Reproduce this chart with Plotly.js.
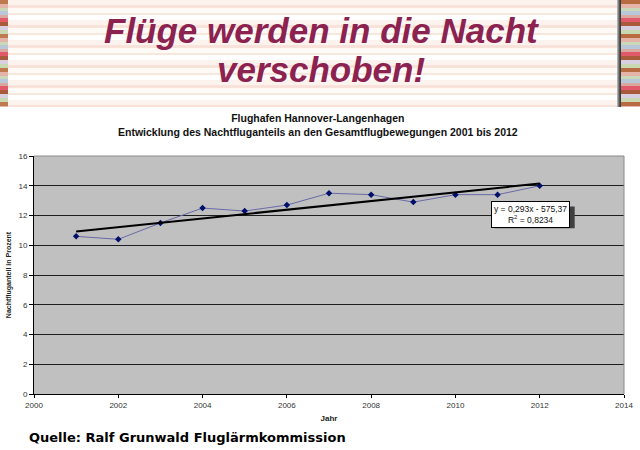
<!DOCTYPE html>
<html>
<head>
<meta charset="utf-8">
<script src="https://cdn.plot.ly/plotly-3.0.1.min.js"></script>
<style>
html,body{margin:0;padding:0;background:#fff;}
#wrap{position:relative;width:640px;height:450px;overflow:hidden;background:#fff;}
#banner{position:absolute;left:0;top:0;width:640px;height:107px;
 background:repeating-linear-gradient(180deg,#fdf3ee 0px,#fdf3ee 5px,#f8e2da 5px,#f8e2da 8px,#fffaf6 8px,#fffaf6 13px,#f6e8dc 13px,#f6e8dc 15px,#ffffff 15px,#ffffff 20px);}
#lstrip{position:absolute;left:0;top:0;width:8px;height:107px;
 background:repeating-linear-gradient(180deg,#c07a50 0px,#c07a50 4px,#e4b4a8 4px,#e4b4a8 8px,#c9d8b8 8px,#c9d8b8 11px,#b8c8d8 11px,#b8c8d8 15px,#d9a8a0 15px,#d9a8a0 18px,#e05a6a 18px,#e05a6a 22px,#a85a3a 22px,#a85a3a 26px,#d8d0e0 26px,#d8d0e0 30px,#c8d8b0 30px,#c8d8b0 34px);}
#rstrip{position:absolute;left:621px;top:0;width:19px;height:107px;
 background:repeating-linear-gradient(180deg,#b86a40 0px,#b86a40 4px,#e4b4a8 4px,#e4b4a8 8px,#c9d8b8 8px,#c9d8b8 11px,#b8c8d8 11px,#b8c8d8 15px,#d9a8a0 15px,#d9a8a0 18px,#e05a6a 18px,#e05a6a 22px,#a85a3a 22px,#a85a3a 26px,#d8d0e0 26px,#d8d0e0 30px,#c8d8b0 30px,#c8d8b0 34px);}
#shadow{position:absolute;left:617px;top:0;width:4px;height:107px;background:linear-gradient(90deg,#c8c8c8,#555 60%,#333);}
#chart{position:absolute;left:0;top:0;width:640px;height:450px;}
</style>
</head>
<body>
<div id="wrap">
<div id="banner"></div>
<div id="lstrip"></div>
<div id="rstrip"></div>
<div id="shadow"></div>
<div id="chart"></div>
</div>
<script>
// Data
const years = [2001, 2002, 2003, 2004, 2005, 2006, 2007, 2008, 2009, 2010, 2011, 2012];
const nightShare = [10.6, 10.4, 11.5, 12.5, 12.3, 12.7, 13.5, 13.4, 12.9, 13.4, 13.4, 14.0];
const trendSlope = 0.293;
const trendIntercept = -575.37;
const trendText = ["y = 0,293x - 575,37", "R<sup>2</sup> = 0,8234"];
const xTicks = [2000, 2002, 2004, 2006, 2008, 2010, 2012, 2014];
const yTicks = [0, 2, 4, 6, 8, 10, 12, 14, 16];
const headline = ["Flüge werden in die Nacht", "verschoben!"];
const chartTitle = ["Flughafen Hannover-Langenhagen", "Entwicklung des Nachtfluganteils an den Gesamtflugbewegungen 2001 bis 2012"];
const source = "Quelle: Ralf Grunwald Fluglärmkommission";

const trendX = [years[0], years[years.length - 1]];
const trendY = trendX.map(x => trendSlope * x + trendIntercept);

const traces = [
  {
    x: years, y: nightShare, type: 'scatter', mode: 'lines+markers',
    line: {color: '#6a6aa8', width: 1},
    marker: {symbol: 'diamond', size: 5, color: '#00106a'},
    hoverinfo: 'x+y'
  },
  {
    x: trendX, y: trendY, type: 'scatter', mode: 'lines',
    line: {color: '#000000', width: 2},
    hoverinfo: 'skip'
  }
];

const FF = 'Liberation Sans, Arial, sans-serif';
const axFont = {family: FF, size: 8, color: '#333'};

const layout = {
  width: 640, height: 450,
  margin: {l: 34, r: 16, t: 156, b: 56},
  paper_bgcolor: 'rgba(0,0,0,0)',
  plot_bgcolor: '#c0c0c0',
  showlegend: false,
  xaxis: {
    range: [2000, 2014], tickvals: xTicks, ticktext: xTicks.map(String),
    showgrid: false, zeroline: false, showline: true, linecolor: '#000', linewidth: 1,
    ticks: 'outside', ticklen: 3, tickcolor: '#000', tickfont: axFont,
    title: {text: '<b>Jahr</b>', font: {family: FF, size: 8, color: '#222'}, standoff: 6}
  },
  yaxis: {
    range: [0, 16], tickvals: yTicks, ticktext: yTicks.map(String),
    showgrid: true, gridcolor: '#1e1e1e', gridwidth: 1,
    zeroline: false, showline: true, linecolor: '#000', linewidth: 1,
    ticks: 'outside', ticklen: 4, tickcolor: '#000', tickfont: axFont,
    title: {text: '<b>Nachtfluganteil in Prozent</b>', font: {family: FF, size: 7, color: '#222'}, standoff: 6}
  },
  shapes: [
    {type: 'line', xref: 'paper', yref: 'paper', x0: 0, x1: 1, y0: 1, y1: 1, line: {color: '#8a8a8a', width: 1}},
    {type: 'line', xref: 'paper', yref: 'paper', x0: 1, x1: 1, y0: 0, y1: 1, line: {color: '#8a8a8a', width: 1}},
    {type: 'rect', xref: 'x', yref: 'y', x0: 2010.93, x1: 2012.83, y0: 11.15, y1: 12.6, line: {width: 0}, fillcolor: '#404040', layer: 'above'}
  ],
  annotations: [
    {xref: 'paper', yref: 'paper', x: 0.5, y: 1, xshift: -8, yshift: 156 - 52, xanchor: 'center', yanchor: 'bottom', showarrow: false,
     text: '<b><i>' + headline[0] + '</i></b>',
     font: {family: FF, size: 35, color: '#8c2250'}},
    {xref: 'paper', yref: 'paper', x: 0.5, y: 1, xshift: -8, yshift: 156 - 91, xanchor: 'center', yanchor: 'bottom', showarrow: false,
     text: '<b><i>' + headline[1] + '</i></b>',
     font: {family: FF, size: 35, color: '#8c2250'}},
    {xref: 'paper', yref: 'paper', x: 0.5, y: 1, xshift: -11, yshift: 156 - 124.5, xanchor: 'center', yanchor: 'middle', showarrow: false,
     text: '<b>' + chartTitle[0] + '</b><br><b>' + chartTitle[1] + '</b>',
     font: {family: FF, size: 10.5, color: '#111'}},
    {xref: 'x', yref: 'y', x: 2011.79, y: 12.1, xanchor: 'center', yanchor: 'middle', showarrow: false,
     text: trendText[0] + '<br>' + trendText[1],
     bgcolor: '#ffffff', bordercolor: '#000', borderwidth: 1, borderpad: 2,
     font: {family: FF, size: 8.5, color: '#111'}},
    {xref: 'paper', yref: 'paper', x: 0, y: 0, xshift: -7, yshift: -(428 - 394), xanchor: 'left', yanchor: 'top', showarrow: false,
     text: '<b>' + source + '</b>',
     font: {family: 'DejaVu Sans, sans-serif', size: 13, color: '#000'}}
  ]
};

Plotly.newPlot('chart', traces, layout, {displayModeBar: false, staticPlot: true});
</script>
</body>
</html>
